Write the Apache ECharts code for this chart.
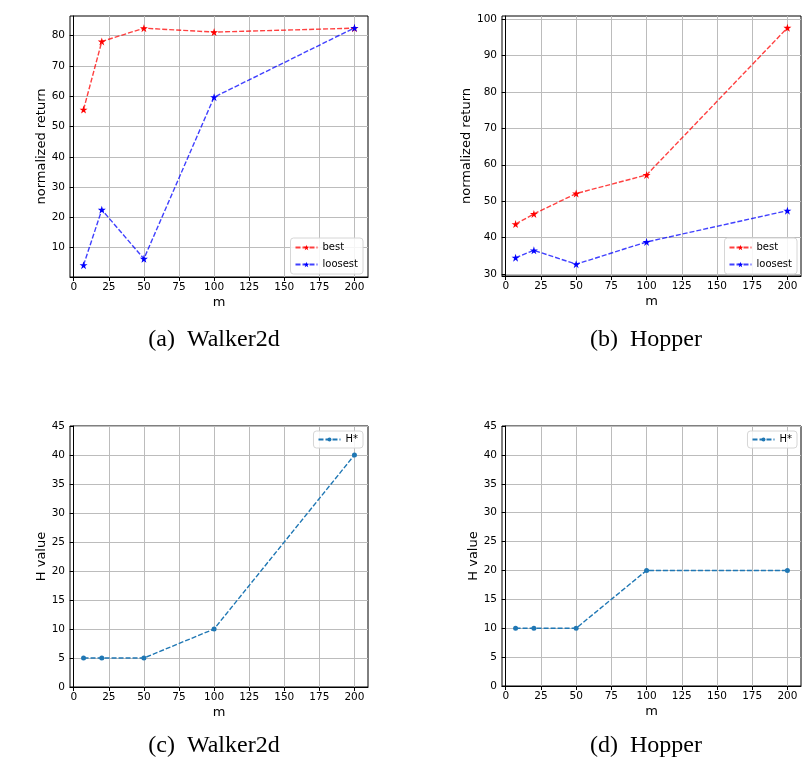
<!DOCTYPE html>
<html>
<head>
<meta charset="utf-8">
<script src="https://cdn.jsdelivr.net/npm/echarts@6/dist/echarts.min.js"></script>
<style>html,body{margin:0;padding:0;background:#fff}#c{width:812px;height:762px}</style>
</head>
<body>
<div id="c"></div>
<script>
// ---- data ----
const mValues = [7, 20, 50, 100, 200];
const walkerBest = [55.6, 78.1, 82.5, 81.2, 82.5];
const walkerLoosest = [4.2, 22.5, 6.3, 59.7, 82.6];
const hopperBest = [43.7, 46.5, 52.1, 57.2, 97.6];
const hopperLoosest = [34.5, 36.5, 32.7, 38.8, 47.4];
const walkerH = [5, 5, 5, 10, 40];
const hopperH = [10, 10, 10, 20, 20];
const xTicks = [0, 25, 50, 75, 100, 125, 150, 175, 200];
const walkerRetTicks = [10, 20, 30, 40, 50, 60, 70, 80];
const hopperRetTicks = [30, 40, 50, 60, 70, 80, 90, 100];
const captions = ['(a)\u00a0\u00a0Walker2d', '(b)\u00a0\u00a0Hopper', '(c)\u00a0\u00a0Walker2d', '(d)\u00a0\u00a0Hopper'];

const FONT = 'DejaVu Sans';
const STAR = 'path://M0,-10 L2.245,-3.09 L9.51,-3.09 L3.633,1.18 L5.878,8.09 L0,3.82 L-5.878,8.09 L-3.633,1.18 L-9.51,-3.09 L-2.245,-3.09 Z';

function pad(arrs) {
  const all = [].concat(...arrs);
  const lo = Math.min(...all), hi = Math.max(...all);
  const p = 0.05 * (hi - lo);
  return [lo - p, hi + p];
}
const xLo = mValues[0] - 0.05 * (mValues[4] - mValues[0]);
const xHi = mValues[4] + 0.05 * (mValues[4] - mValues[0]);
const ya = pad([walkerBest, walkerLoosest]);
const yb = pad([hopperBest, hopperLoosest]);

const grids = [
  {left: 70, top: 16, width: 298, height: 261},
  {left: 502, top: 16, width: 299, height: 260},
  {left: 70, top: 426, width: 298, height: 261},
  {left: 502, top: 426, width: 299, height: 260}
];

function xAxis(i) {
  return {
    type: 'value', gridIndex: i, min: xLo, max: xHi,
    name: 'm', nameLocation: 'middle', nameGap: 19,
    nameTextStyle: {fontFamily: FONT, fontSize: 13, color: '#000'},
    axisLine: {show: true, lineStyle: {color: '#000', width: 1}},
    axisTick: {show: true, length: 4, inside: false, customValues: xTicks, lineStyle: {color: '#000'}},
    axisLabel: {customValues: xTicks, margin: 5, fontFamily: FONT, fontSize: 10.5, color: '#000'},
    splitLine: {show: true, lineStyle: {color: '#bcbcbc', width: 1}}
  };
}
function yAxis(i, name, min, max, ticks, gap) {
  const ax = {
    type: 'value', gridIndex: i, min: min, max: max,
    name: name, nameLocation: 'middle', nameGap: gap, nameRotate: 90,
    nameTextStyle: {fontFamily: FONT, fontSize: 13, color: '#000'},
    axisLine: {show: true, lineStyle: {color: '#000', width: 1}},
    axisTick: {show: true, length: 4, inside: false, lineStyle: {color: '#000'}},
    axisLabel: {margin: 5, fontFamily: FONT, fontSize: 10.5, color: '#000'},
    splitLine: {show: true, lineStyle: {color: '#bcbcbc', width: 1}}
  };
  if (ticks) {
    ax.axisTick.customValues = ticks;
    ax.axisLabel.customValues = ticks;
  } else {
    ax.interval = 5;
  }
  return ax;
}
function pts(vals) { return mValues.map((m, k) => [m, vals[k]]); }
function lineSeries(name, i, vals, color, lineColor, symbol, size) {
  return {
    type: 'line', name: name, xAxisIndex: i, yAxisIndex: i,
    data: pts(vals), symbol: symbol, symbolSize: size, showSymbol: true,
    itemStyle: {color: color, borderWidth: 0},
    lineStyle: {color: lineColor, width: 1.4, type: [5, 2]},
    emphasis: {disabled: true}, animation: false
  };
}
function legend(names, right, top, iconSize) {
  return {
    data: names, orient: 'vertical', right: right, top: top,
    padding: [2, 5, 2, 4], itemGap: 4, itemWidth: 22, itemHeight: iconSize,
    textStyle: {fontFamily: FONT, fontSize: 10, color: '#000', lineHeight: 13},
    backgroundColor: 'rgba(255,255,255,0.85)', borderColor: '#d6d6d6', borderWidth: 1, borderRadius: 3,
    selectedMode: false
  };
}

const RED = '#ff0000', BLUE = '#0000ff', C0 = '#1f77b4';
const option = {
  backgroundColor: '#fff',
  animation: false,
  grid: grids.map(g => Object.assign({show: true, borderColor: '#000', borderWidth: 1, backgroundColor: 'transparent', containLabel: false}, g)),
  xAxis: [xAxis(0), xAxis(1), xAxis(2), xAxis(3)],
  yAxis: [
    yAxis(0, 'normalized return', ya[0], ya[1], walkerRetTicks, 22),
    yAxis(1, 'normalized return', yb[0], yb[1], hopperRetTicks, 28),
    yAxis(2, 'H value', 0, 45, null, 22),
    yAxis(3, 'H value', 0, 45, null, 22)
  ],
  legend: [
    Object.assign(legend(['best', 'loosest'], 449, 238, 7), {padding: [3, 5, 3, 4]}),
    Object.assign(legend(['best', 'loosest'], 15, 238, 7), {padding: [3, 5, 3, 4]}),
    legend(['H*'], 449, 431, 5),
    legend(['H*'], 15, 431, 5)
  ],
  series: [
    lineSeries('best', 0, walkerBest, RED, 'rgba(255,0,0,0.75)', STAR, 8),
    lineSeries('loosest', 0, walkerLoosest, BLUE, 'rgba(0,0,255,0.75)', STAR, 8),
    lineSeries('best', 1, hopperBest, RED, 'rgba(255,0,0,0.75)', STAR, 8),
    lineSeries('loosest', 1, hopperLoosest, BLUE, 'rgba(0,0,255,0.75)', STAR, 8),
    lineSeries('H*', 2, walkerH, C0, C0, 'circle', 5),
    lineSeries('H*', 3, hopperH, C0, C0, 'circle', 5)
  ],
  graphic: [
    {x: 214, y: 340, t: captions[0]},
    {x: 646, y: 340, t: captions[1]},
    {x: 214, y: 746, t: captions[2]},
    {x: 646, y: 746, t: captions[3]}
  ].map(c => ({
    type: 'text', x: c.x, y: c.y,
    style: {text: c.t, fill: '#000', font: '24px "Liberation Serif", "DejaVu Serif", serif', textAlign: 'center', textVerticalAlign: 'middle'}
  }))
};
const chart = echarts.init(document.getElementById('c'), null, {renderer: 'canvas'});
chart.setOption(option);
</script>
</body>
</html>
